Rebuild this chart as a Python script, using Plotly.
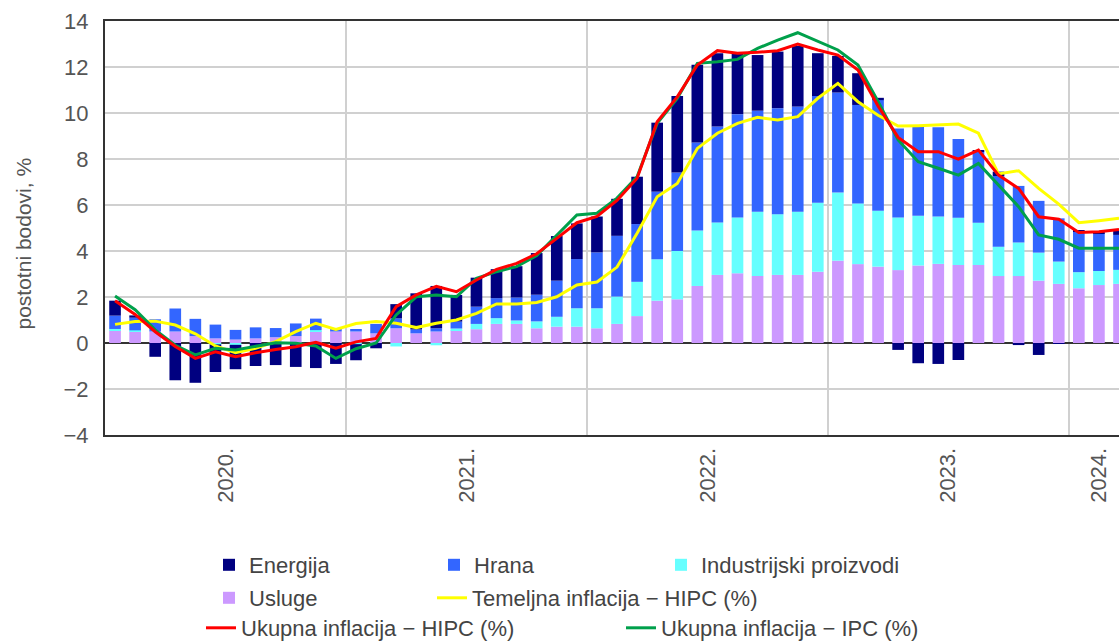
import plotly.graph_objects as go

# ---- data (Jan 2020 - Mar 2024, monthly) ----
months = [f"{y}-{m:02d}" for y in range(2020, 2025) for m in range(1, 13)][:51]

energija = [0.65, 0.10, -0.60, -1.62, -1.73, -1.20, -1.06, -1.00, -0.96, -1.04, -1.09, -0.91,
            -0.70, -0.23, 0.62, 1.57, 1.84, 1.16, 1.26, 1.26, 1.36, 1.81, 1.94, 1.55,
            1.56, 1.61, 2.06, 3.00, 3.33, 3.38, 3.19, 2.64, 2.42, 2.46, 2.64, 1.86,
            1.59, 1.38, 0.10, -0.30, -0.88, -0.91, -0.74, 0.07, 0.19, -0.09, -0.52, -0.03,
            0.02, 0.07, 0.20]
hrana = [0.58, 0.55, 0.53, 1.00, 0.75, 0.60, 0.42, 0.48, 0.40, 0.55, 0.50, 0.15,
         0.11, 0.41, 0.43, 0.17, 0.14, 0.30, 0.75, 0.87, 1.00, 1.16, 1.57, 2.14,
         2.43, 2.64, 2.51, 2.94, 3.41, 3.83, 4.17, 4.49, 4.39, 4.61, 4.57, 4.64,
         4.35, 4.28, 4.81, 3.87, 3.88, 3.88, 3.42, 3.09, 3.07, 2.46, 2.25, 1.88,
         1.77, 1.64, 1.52]
industrijski = [0.06, 0.05, 0.00, 0.00, 0.00, -0.06, -0.08, 0.00, 0.00, 0.00, 0.04, 0.00,
                -0.05, 0.00, -0.15, 0.00, -0.10, 0.07, 0.23, 0.25, 0.15, 0.30, 0.43, 0.80,
                0.87, 1.19, 1.49, 1.80, 2.10, 2.41, 2.28, 2.43, 2.80, 2.64, 2.75, 3.00,
                2.96, 2.64, 2.43, 2.29, 2.16, 2.06, 2.06, 1.84, 1.28, 1.46, 1.22, 0.97,
                0.70, 0.61, 0.61]
usluge = [0.55, 0.50, 0.50, 0.50, 0.30, 0.20, 0.15, 0.20, 0.25, 0.30, 0.52, 0.50,
          0.50, 0.42, 0.64, 0.42, 0.50, 0.56, 0.60, 0.83, 0.83, 0.64, 0.71, 0.71,
          0.64, 0.83, 1.17, 1.84, 1.90, 2.48, 2.96, 3.03, 2.91, 2.96, 2.96, 3.10,
          3.58, 3.43, 3.32, 3.17, 3.37, 3.44, 3.39, 3.39, 2.91, 2.91, 2.71, 2.57,
          2.38, 2.52, 2.57]
temeljna_hipc = [0.81, 0.93, 0.95, 0.78, 0.40, -0.13, -0.42, -0.23, 0.06, 0.49, 0.86, 0.59,
                 0.85, 0.93, 0.86, 0.67, 0.86, 1.00, 1.29, 1.70, 1.70, 1.76, 2.01, 2.52,
                 2.65, 3.30, 4.77, 6.36, 6.94, 8.46, 9.12, 9.55, 9.81, 9.70, 9.84, 10.64,
                 11.29, 10.49, 9.90, 9.43, 9.45, 9.50, 9.52, 9.12, 7.35, 7.49, 6.72, 6.04,
                 5.23, 5.32, 5.42]
ukupna_hipc = [1.84, 1.24, 0.49, -0.15, -0.67, -0.38, -0.60, -0.42, -0.28, -0.16, 0.03, -0.23,
               0.05, 0.20, 1.58, 2.09, 2.46, 2.23, 2.74, 3.20, 3.46, 3.88, 4.55, 5.23,
               5.50, 6.20, 7.16, 9.62, 10.70, 12.09, 12.71, 12.60, 12.64, 12.71, 13.00, 12.74,
               12.52, 11.87, 10.30, 8.94, 8.32, 8.32, 7.99, 8.39, 7.30, 6.72, 5.49, 5.38,
               4.80, 4.84, 4.94]
ukupna_ipc = [2.04, 1.45, 0.57, -0.10, -0.52, -0.23, -0.30, -0.13, 0.01, -0.01, -0.13, -0.67,
              -0.25, 0.00, 1.22, 2.01, 2.09, 2.01, 2.81, 3.10, 3.32, 3.80, 4.70, 5.57,
              5.64, 6.30, 7.23, 9.55, 10.64, 12.16, 12.23, 12.33, 12.81, 13.17, 13.49, 13.10,
              12.74, 12.09, 10.50, 8.83, 7.88, 7.60, 7.30, 7.81, 6.87, 5.93, 4.70, 4.51,
              4.12, 4.12, 4.12]

year_labels = ["2020.", "2021.", "2022.", "2023.", "2024."]

# ---- derived positions ----
x = list(range(len(months)))
years = [m[:4] for m in months]
tickvals = []
for lab in year_labels:
    idx = [i for i, yy in enumerate(years) if yy == lab[:4]]
    tickvals.append(sum(idx) / len(idx))
boundaries = [i - 0.5 for i in range(1, len(months)) if years[i] != years[i - 1]]

FONT = "Liberation Sans, Arial, sans-serif"
TICK_COLOR = "#555555"
LEG_COLOR = "#444444"
BAR_W = 0.58

fig = go.Figure()

# bars (stack order bottom->top: usluge, industrijski, hrana, energija)
fig.add_trace(go.Bar(x=x, y=usluge, name="Usluge", marker_color="#cc99ff",
                     marker_line_width=0, width=BAR_W, legend="legend2", legendrank=1,
                     legendwidth=178))
fig.add_trace(go.Bar(x=x, y=industrijski, name="Industrijski proizvodi", marker_color="#66ffff",
                     marker_line_width=0, width=BAR_W, legend="legend", legendrank=3,
                     legendwidth=260))
fig.add_trace(go.Bar(x=x, y=hrana, name="Hrana", marker_color="#3366ff",
                     marker_line_width=0, width=BAR_W, legend="legend", legendrank=2,
                     legendwidth=182))
fig.add_trace(go.Bar(x=x, y=energija, name="Energija", marker_color="#000080",
                     marker_line_width=0, width=BAR_W, legend="legend", legendrank=1,
                     legendwidth=180))

# lines
fig.add_trace(go.Scatter(x=x, y=temeljna_hipc, mode="lines", name="Temeljna inflacija − HIPC (%)",
                         line=dict(color="#ffff00", width=3), legend="legend2", legendrank=2,
                         legendwidth=330))
fig.add_trace(go.Scatter(x=x, y=ukupna_ipc, mode="lines", name="Ukupna inflacija − IPC (%)",
                         line=dict(color="#00a04b", width=3), legend="legend3", legendrank=2,
                         legendwidth=300))
fig.add_trace(go.Scatter(x=x, y=ukupna_hipc, mode="lines", name="Ukupna inflacija − HIPC (%)",
                         line=dict(color="#ff0000", width=3), legend="legend3", legendrank=1,
                         legendwidth=375))

L, T, W, H = 105, 21, 1119, 641
PLOT_W = W - L
PLOT_H = 435 - T


def px_x(p):
    return (p - L) / PLOT_W


def px_y(p):
    return (435 - p) / PLOT_H


leg_common = dict(orientation="h", xanchor="left", yanchor="middle",
                  font=dict(family=FONT, size=22, color=LEG_COLOR),
                  bgcolor="rgba(0,0,0,0)", traceorder="normal")

fig.update_layout(
    width=W, height=H,
    margin=dict(l=L, r=0, t=T, b=H - 435, autoexpand=False),
    paper_bgcolor="white", plot_bgcolor="white",
    barmode="relative",
    font=dict(family=FONT, size=21, color=TICK_COLOR),
    legend=dict(**leg_common, x=px_x(209), y=px_y(565)),
    legend2=dict(**leg_common, x=px_x(209), y=px_y(598)),
    legend3=dict(**leg_common, x=px_x(201), y=px_y(628)),
    xaxis=dict(range=[-0.5, 50.0], tickmode="array", tickvals=tickvals, ticktext=year_labels,
               tickangle=-90, showgrid=False, ticks="", ticklabelstandoff=2,
               tickfont=dict(family=FONT, size=22, color=TICK_COLOR),
               showline=True, linecolor="#333333", linewidth=2, mirror=True,
               zeroline=False,
               minor=dict(tickmode="array", tickvals=boundaries, showgrid=True,
                          gridcolor="#d0d0d0", gridwidth=1.5, ticks="")),
    yaxis=dict(range=[-4, 14], dtick=2, showgrid=True, gridcolor="#d0d0d0", gridwidth=1.5,
               ticks="", ticklabelstandoff=10,
               tickfont=dict(family=FONT, size=22, color=TICK_COLOR),
               showline=True, linecolor="#333333", linewidth=2,
               zeroline=True, zerolinecolor="#333333", zerolinewidth=2),
    annotations=[dict(text="postotni bodovi, %", textangle=-90, xref="paper", yref="paper",
                      x=px_x(23), y=px_y(243.5), xanchor="center", yanchor="middle",
                      showarrow=False, font=dict(family=FONT, size=21, color=TICK_COLOR))],
)

fig.write_html("out.html",
               config={"displayModeBar": False},
               post_script="document.body.style.margin='0';document.body.style.overflow='hidden';")
